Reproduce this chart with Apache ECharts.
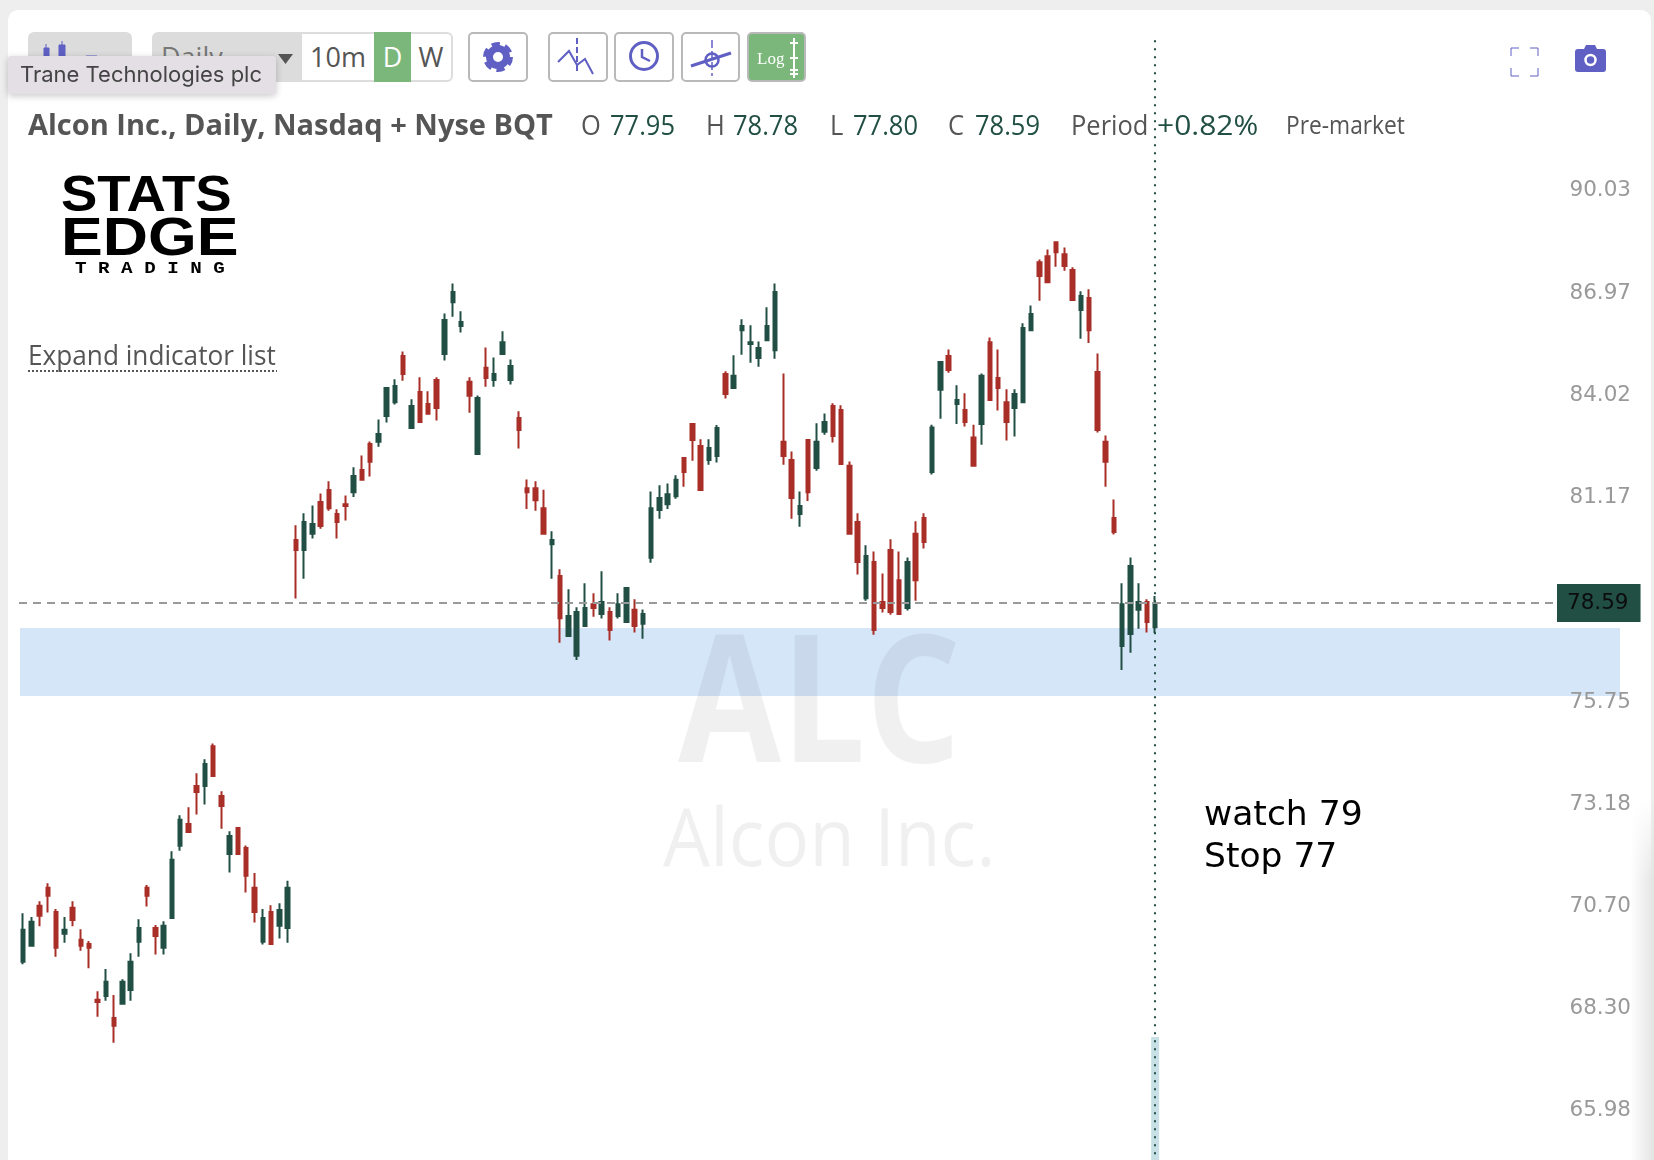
<!DOCTYPE html>
<html>
<head>
<meta charset="utf-8">
<title>Alcon Inc. daily chart</title>
<script src="https://cdn.jsdelivr.net/npm/echarts@6/dist/echarts.min.js"></script>
<style>
  html, body { margin: 0; height: 100%; background: #eeeeee; overflow: hidden; }
  #panel { position: absolute; left: 8px; top: 10px; width: 1643px; height: 1150px; background: #fff; border-radius: 10px 10px 0 0; }
  #sideShade { position: absolute; left: 1630px; top: 800px; width: 24px; height: 360px;
    background: linear-gradient(to right, rgba(232,232,232,0), #e4e4e4);
    -webkit-mask-image: linear-gradient(to bottom, transparent, #000 80px); }
  #chart { position: absolute; left: 0; top: 0; width: 1654px; height: 1160px; }
  .tool { position: absolute; top: 32px; height: 50px; box-sizing: border-box; font-family: "Open Sans", sans-serif; color: #555; }
  .tool svg { position: absolute; left: 0; top: 0; width: 100%; height: 100%; }
  .btn { border: 2px solid #b9b9b9; border-radius: 5px; background: #fff; }
  .grey { background: #dcdcdc; border-radius: 6px; }
  .seg { font-size: 27px; line-height: 50px; text-align: center; }
  #tip { position: absolute; left: 8px; top: 56px; width: 268px; height: 38px; box-sizing: border-box; background: #e3dfe5;
    border-radius: 3px; box-shadow: 0 2px 7px rgba(0,0,0,.22); font: 22px/37px Inter, sans-serif; color: #444; padding-left: 12px; white-space: nowrap; }
  .corner { position: absolute; }
</style>
</head>
<body>
<div id="panel"></div>
<div id="sideShade"></div>
<div id="chart"></div>

<!-- toolbar -->
<div class="tool grey" style="left:28px;width:104px">
  <svg viewBox="0 0 104 50"><path d="M16 32V16h5v16zM31 32V13h6v19zM18 16v-4M34 13V9M58 24h11v2H58z" fill="#5f5fc4" stroke="#5f5fc4"/></svg>
</div>
<div class="tool grey" style="left:152px;width:150px;border-radius:6px 0 0 6px;font-size:27px;line-height:50px;padding-left:9px;color:#777">Daily
  <svg viewBox="0 0 150 50"><path d="M126 22h15l-7.5 10z" fill="#555"/></svg>
</div>
<div class="tool seg" style="left:302px;width:72px;background:#fff;border-top:2px solid #ddd;border-bottom:2px solid #ddd;line-height:46px">10m</div>
<div class="tool seg" style="left:374px;width:37px;background:#7bb77b;color:#fff">D</div>
<div class="tool seg" style="left:411px;width:42px;background:#fff;border:2px solid #ddd;border-left:0;border-radius:0 6px 6px 0;line-height:46px">W</div>

<div class="tool btn" style="left:468px;width:60px">
  <svg viewBox="0 0 56 46"><circle cx="28" cy="23" r="8.5" fill="none" stroke="#5f5fc4" stroke-width="7"/><circle cx="28" cy="23" r="12.5" fill="none" stroke="#5f5fc4" stroke-width="5" stroke-dasharray="8 5.09"/></svg>
</div>
<div class="tool btn" style="left:548px;width:60px">
  <svg viewBox="0 0 56 46"><path d="M8 28L19 17L27 31L35 25L43 40" fill="none" stroke="#5f5fc4" stroke-width="2"/><path d="M27 4V40" stroke="#5f5fc4" stroke-width="2" stroke-dasharray="6 3"/></svg>
</div>
<div class="tool btn" style="left:614px;width:60px">
  <svg viewBox="0 0 56 46"><circle cx="28" cy="22" r="13.5" fill="none" stroke="#5f5fc4" stroke-width="3"/><path d="M26 15V23L34 27" fill="none" stroke="#5f5fc4" stroke-width="2.5"/></svg>
</div>
<div class="tool btn" style="left:681px;width:59px">
  <svg viewBox="0 0 55 46"><path d="M8 32L48 19" stroke="#5f5fc4" stroke-width="3"/><circle cx="29" cy="26" r="6.5" fill="none" stroke="#5f5fc4" stroke-width="2.5"/><path d="M29 6V42" stroke="#5f5fc4" stroke-width="2" stroke-dasharray="8 3" opacity=".75"/></svg>
</div>
<div class="tool btn" style="left:747px;width:59px;background:#7bb77b">
  <svg viewBox="0 0 55 46"><text x="8" y="30" font-family="Liberation Serif" font-size="17" fill="#fff">Log</text><path d="M45 4V44M41 9H49M41 24H49M41 36H49M41 40H49" stroke="#fff" stroke-width="2"/></svg>
</div>
<div id="tip">Trane Technologies plc</div>

<div class="corner" style="left:1510px;top:47px;width:29px;height:30px">
  <svg width="29" height="30"><path d="M1 9V1H9M20 1H28V9M1 21V29H9M20 29H28V21" fill="none" stroke="#5f5fc4" stroke-width="1"/></svg>
</div>
<div class="corner" style="left:1575px;top:44px;width:31px;height:29px">
  <svg width="31" height="29"><path d="M3 5H9L11 1H20L22 5H28Q31 5 31 8V25Q31 28 28 28H3Q0 28 0 25V8Q0 5 3 5Z" fill="#5f5fc4"/><circle cx="15.5" cy="16" r="5" fill="none" stroke="#fff" stroke-width="2.5"/></svg>
</div>

<script>
// Daily candles, oldest first
const opens = [
  69.62, 70.00, 70.95, 71.38, 70.80, 70.28, 70.90, 70.14, 70.04, 68.73,
  68.82, 68.31, 68.64, 68.96, 70.09, 71.38, 70.42, 69.95, 70.66, 72.40,
  72.94, 73.88, 73.88, 74.88, 73.63, 72.20, 72.84, 72.35, 71.38, 70.09,
  70.80, 70.47, 70.42, 80.28, 80.01, 80.45, 81.32, 81.65, 80.99, 81.26,
  81.59, 82.20, 82.93, 82.99, 83.72, 84.11, 85.43, 83.38, 84.40, 84.06,
  84.74, 85.49, 87.00, 86.30, 84.69, 82.65, 85.09, 84.74, 85.49, 84.74,
  83.66, 81.70, 81.70, 81.15, 80.17, 79.31, 77.72, 77.20, 77.98, 78.56,
  78.30, 78.35, 78.25, 78.09, 78.41, 78.04, 79.80, 81.10, 81.26, 81.48,
  82.54, 83.49, 82.87, 82.48, 82.59, 84.91, 84.51, 86.18, 85.78, 85.37,
  85.89, 85.60, 82.99, 82.48, 80.99, 83.04, 82.26, 83.27, 84.00, 83.89,
  82.32, 80.77, 78.72, 79.69, 78.62, 80.01, 79.20, 78.46, 80.45, 80.88,
  82.15, 84.46, 85.43, 84.06, 83.89, 83.11, 83.49, 85.83, 84.80, 84.11,
  83.94, 84.11, 86.18, 88.18, 88.36, 88.78, 88.42, 87.95, 86.77, 87.12,
  84.97, 82.99, 80.88, 77.46, 77.77, 78.41, 78.62, 77.95,
];
const closes = [
  70.38, 70.57, 70.71, 71.19, 69.95, 70.38, 70.61, 70.00, 69.95, 68.68,
  69.15, 68.13, 69.15, 69.62, 70.42, 71.19, 70.23, 70.47, 72.06, 73.04,
  72.74, 73.73, 74.43, 74.13, 73.38, 72.64, 72.20, 71.67, 70.80, 70.66,
  70.04, 70.85, 71.38, 80.01, 80.77, 80.72, 80.66, 81.15, 80.77, 81.21,
  82.04, 81.93, 82.43, 83.21, 84.51, 84.57, 84.91, 84.00, 83.55, 83.78,
  83.94, 86.48, 87.30, 86.42, 84.29, 84.23, 84.80, 84.91, 85.83, 85.14,
  83.32, 81.59, 81.37, 80.45, 80.28, 78.19, 78.25, 78.35, 78.46, 78.46,
  78.62, 77.88, 78.56, 78.99, 77.98, 78.30, 81.15, 81.43, 81.53, 81.93,
  82.15, 83.04, 81.65, 82.82, 83.38, 84.34, 84.86, 86.30, 85.83, 85.66,
  86.30, 87.30, 82.59, 81.43, 81.21, 81.59, 82.99, 83.55, 83.15, 82.37,
  80.45, 79.69, 79.85, 77.88, 78.46, 78.35, 78.30, 79.69, 79.20, 80.23,
  83.39, 85.26, 85.03, 84.17, 83.55, 82.32, 84.86, 84.17, 84.51, 83.55,
  84.34, 86.24, 86.65, 87.77, 87.59, 88.48, 88.07, 87.06, 87.18, 86.18,
  83.32, 82.43, 80.50, 78.56, 79.58, 78.62, 78.09, 78.59,
];
const highs = [
  70.77, 70.68, 71.06, 71.49, 70.87, 70.68, 71.06, 70.39, 70.11, 68.93,
  69.45, 68.84, 69.21, 69.82, 70.63, 71.45, 70.49, 70.58, 72.27, 73.15,
  73.35, 74.20, 74.55, 74.95, 73.75, 72.76, 72.84, 72.41, 71.74, 70.87,
  70.96, 71.01, 71.55, 80.68, 81.01, 81.22, 81.55, 81.89, 81.12, 81.50,
  82.28, 82.61, 83.00, 83.62, 84.51, 84.76, 85.56, 84.19, 84.82, 84.42,
  84.82, 86.67, 87.55, 86.73, 84.82, 84.30, 85.68, 85.39, 86.15, 85.33,
  83.85, 81.94, 81.89, 81.66, 80.52, 79.49, 78.96, 78.48, 79.12, 78.85,
  79.44, 78.48, 78.85, 78.99, 78.69, 78.42, 81.61, 81.78, 81.83, 82.06,
  82.54, 83.49, 83.06, 83.06, 83.46, 84.99, 85.45, 86.50, 86.32, 85.85,
  86.85, 87.55, 84.93, 82.72, 81.61, 83.04, 83.51, 83.79, 84.08, 84.02,
  82.44, 81.01, 80.14, 79.97, 79.38, 80.30, 79.97, 79.81, 80.79, 81.01,
  83.47, 85.26, 85.62, 84.59, 84.36, 83.47, 84.93, 85.97, 85.62, 84.48,
  84.48, 86.38, 86.90, 88.26, 88.56, 88.78, 88.62, 88.03, 87.32, 87.38,
  85.50, 83.17, 81.39, 79.12, 79.81, 79.12, 78.69, 78.78,
];
const lows = [
  69.56, 69.98, 70.46, 70.79, 69.74, 70.07, 70.46, 69.88, 69.47, 68.34,
  68.71, 67.74, 68.62, 68.71, 69.74, 70.93, 69.79, 69.79, 70.66, 72.28,
  72.73, 73.17, 73.42, 74.11, 72.82, 71.75, 72.19, 71.27, 70.55, 70.03,
  70.03, 70.17, 70.07, 78.71, 79.24, 80.32, 80.59, 81.08, 80.32, 80.81,
  81.46, 81.93, 82.02, 82.85, 83.53, 84.04, 84.72, 83.36, 83.53, 83.78,
  83.59, 85.30, 86.57, 86.11, 83.81, 82.63, 84.55, 84.55, 85.47, 84.61,
  82.80, 81.13, 81.08, 80.45, 79.24, 77.54, 77.70, 77.09, 77.97, 78.23,
  78.18, 77.60, 78.18, 78.07, 77.81, 77.65, 79.67, 80.86, 81.13, 81.41,
  81.74, 82.46, 81.63, 82.35, 82.41, 84.21, 84.51, 85.47, 85.24, 85.12,
  85.87, 85.35, 82.35, 80.86, 80.64, 81.35, 82.18, 83.19, 82.97, 82.35,
  80.45, 79.35, 78.65, 77.75, 78.34, 78.28, 78.28, 78.39, 78.65, 80.05,
  82.08, 83.64, 84.95, 83.49, 83.42, 82.30, 82.91, 84.15, 83.87, 83.03,
  83.14, 84.11, 86.16, 87.04, 87.59, 88.05, 87.93, 87.06, 85.93, 85.81,
  83.25, 81.74, 80.43, 76.83, 77.28, 77.91, 77.81, 77.80,
];

// Price axis labels
const priceTicks = [90.03, 86.97, 84.02, 81.17, 75.75, 73.18, 70.70, 68.30, 65.98];

// Support band and the volume stub under the last candle
const bandTop = 77.93;
const bandBottom = 76.16;
const lastVolume = 1.06;
const periodChange = "+0.82%";

const lastIndex = opens.length - 1;
const emptyDays = 56; // blank room right of the last candle
const days = Array.from({ length: opens.length + emptyDays }, (_, i) => i);
const candles = opens.map((open, i) => [open, closes[i], lows[i], highs[i]]);
const volumes = opens.map((_, i) => (i === lastIndex ? lastVolume : null));

const GREEN = "#214f44";
const RED = "#a92e27";
const GREY = "#555555";

const axisMin = 65.11;
const axisMax = 96.35;
const cursorTop = 95.05;

function text(content, x, y, size, color, opts = {}) {
  return {
    type: "text",
    x,
    y,
    scaleX: opts.scaleX || 1,
    z: opts.z || 10,
    silent: true,
    style: {
      text: content,
      fill: color,
      font: `${opts.weight || "normal"} ${size}px ${opts.family || '"Open Sans"'}`,
      verticalAlign: "middle",
    },
  };
}

const last = (values) => values[lastIndex].toFixed(2);
const quote = { scaleX: 0.91 };

const overlays = [
  // header line
  text("Alcon Inc., Daily, Nasdaq + Nyse BQT", 28, 127, 29, GREY, { weight: "bold" }),
  text("O", 581, 127, 28, GREY, quote),
  text(last(opens), 610, 127, 28, GREEN, quote),
  text("H", 706, 127, 28, GREY, quote),
  text(last(highs), 733, 127, 28, GREEN, quote),
  text("L", 830, 127, 28, GREY, quote),
  text(last(lows), 853, 127, 28, GREEN, quote),
  text("C", 948, 127, 28, GREY, quote),
  text(last(closes), 975, 127, 28, GREEN, quote),
  text("Period", 1071, 127, 28, GREY, quote),
  text(periodChange, 1157, 127, 28, GREEN, { scaleX: 1.07 }),
  text("Pre-market", 1286, 127, 25, GREY, quote),

  // logo
  text("STATS", 61, 197, 50, "#000", { weight: "bold", family: '"Liberation Sans"', scaleX: 1.09 }),
  text("EDGE", 61, 240, 54, "#000", { weight: "bold", family: '"Liberation Sans"', scaleX: 1.16 }),
  text("T R A D I N G", 75, 269, 17, "#000", { weight: "bold", family: '"Liberation Mono"', scaleX: 1.13 }),

  // indicator list link
  text("Expand indicator list", 28, 357, 27, GREY, { scaleX: 0.97 }),
  {
    type: "line",
    silent: true,
    z: 10,
    shape: { x1: 28, y1: 371, x2: 277, y2: 371 },
    style: { stroke: GREY, lineWidth: 2, lineDash: [2, 2] },
  },

  // watermark sits over the band, under the candles
  text("ALC", 678, 711, 178, "rgba(0,0,0,0.06)", { weight: "bold", scaleX: 0.84, z: 2 }),
  text("Alcon Inc.", 663, 843, 80, "rgba(0,0,0,0.06)", { scaleX: 0.93, z: 2 }),

  // trade note
  text("watch 79", 1204, 816, 34.5, "#000", { family: '"DejaVu Sans"' }),
  text("Stop 77", 1204, 858, 34.5, "#000", { family: '"DejaVu Sans"' }),
];

const chart = echarts.init(document.getElementById("chart"));

chart.setOption({
  animation: false,
  backgroundColor: "transparent",
  grid: { left: 19, right: 32, top: 0, bottom: 0 },
  xAxis: {
    type: "category",
    data: days,
    show: false,
    boundaryGap: true,
  },
  yAxis: [
    {
      type: "log",
      logBase: 10,
      min: axisMin,
      max: axisMax,
      position: "right",
      offset: 17,
      z: 6,
      axisLine: { show: false },
      axisTick: { show: false },
      splitLine: { show: false },
      axisLabel: {
        inside: true,
        margin: 8,
        customValues: priceTicks,
        formatter: (value) => value.toFixed(2),
        color: "#999999",
        fontFamily: "DejaVu Sans",
        fontSize: 21.5,
        verticalAlign: "bottom",
        lineHeight: 20,
      },
    },
    { type: "value", min: 0, max: 10, show: false },
  ],
  graphic: { elements: overlays },
  series: [
    {
      type: "bar",
      yAxisIndex: 1,
      data: volumes,
      barWidth: 8,
      silent: true,
      z: 2,
      itemStyle: { color: "#c6e0e6" },
    },
    {
      type: "candlestick",
      data: candles,
      barWidth: 4,
      silent: true,
      z: 3,
      itemStyle: {
        color: GREEN,
        borderColor: GREEN,
        color0: RED,
        borderColor0: RED,
        borderWidth: 2,
      },
      markArea: {
        silent: true,
        z: 1,
        itemStyle: { color: "#d6e6f9" },
        data: [[{ yAxis: bandTop, x: 20 }, { yAxis: bandBottom, x: 1620 }]],
      },
      markLine: {
        silent: true,
        symbol: "none",
        z: 5,
        label: { show: false },
        data: [
          {
            yAxis: closes[lastIndex],
            lineStyle: { color: "#999999", width: 2, type: [8, 6] },
            label: {
              show: true,
              position: "end",
              distance: -65,
              formatter: last(closes),
              color: "#0c0c0c",
              backgroundColor: GREEN,
              fontFamily: "DejaVu Sans",
              fontSize: 21.5,
              lineHeight: 24,
              padding: [7, 12, 7, 10],
            },
          },
          [
            { coord: [lastIndex, cursorTop], lineStyle: { color: GREEN, width: 2, type: [2, 6] } },
            { coord: [lastIndex, axisMin] },
          ],
        ],
      },
    },
  ],
});
</script>
</body>
</html>
